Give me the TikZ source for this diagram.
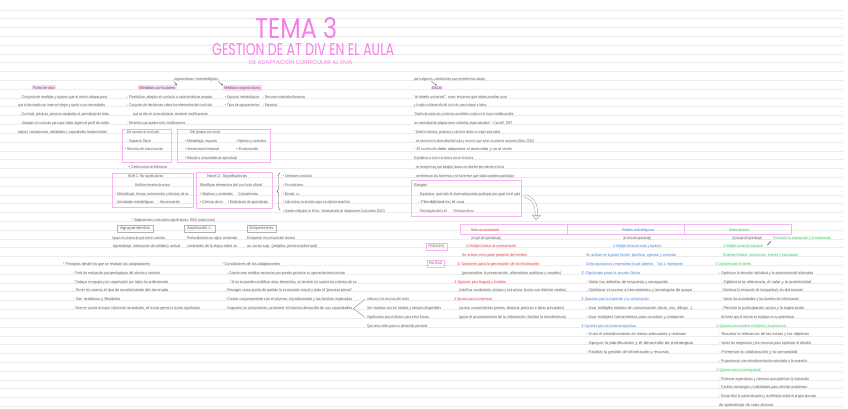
\documentclass[tikz,border=0pt]{standalone}
\usepackage{graphicx}
\usepackage{fontspec}
\setmainfont{Liberation Sans}
\newfontfamily\symfont{DejaVu Sans}
\newfontfamily\titlefont{Poppins}
\usetikzlibrary{arrows.meta,decorations.pathreplacing}

\newlength\hwlen
\newcommand\hw[2]{\settowidth\hwlen{#2}\pgfmathsetmacro\hwf{#1/\hwlen}\scalebox{\hwf}[1]{#2}}
\newcommand\cn[1]{{\symfont #1}}

\begin{document}
\begin{tikzpicture}[x=1pt, y=-1pt, line join=round, line cap=round,
    note/.style={anchor=base west, inner sep=0pt, font=\fontsize{4}{5}\selectfont, text=ink},
    hilite/.style={note, fill=hlPink, inner xsep=1.2pt, inner ysep=0.9pt},
    pinkframe/.style={draw=boxPink, line width=0.9pt},
    tagbox/.style={draw=boxPink, line width=0.8pt, inner sep=0pt, font=\fontsize{3.6}{4}\selectfont, text=ink},
    grbox/.style={draw=gray!60, line width=0.6pt, inner sep=0pt, font=\fontsize{4}{5}\selectfont, text=ink},
    ruleline/.style={draw=ruleGray, line width=0.9pt},
    smallarrow/.style={draw=ink, line width=0.35pt, -{Stealth[length=2pt, width=1.8pt]}},
    hollow/.style={draw=gray!75, line width=0.5pt, double=white, double distance=2pt, -{Triangle[open, length=5pt, width=9pt]}}]
  \definecolor{ink}{RGB}{92, 92, 92}
  \definecolor{tPink}{RGB}{244, 126, 234}
  \definecolor{boxPink}{RGB}{245, 182, 240}
  \definecolor{hlPink}{RGB}{252, 216, 248}
  \definecolor{ruleGray}{RGB}{236, 236, 236}
  \definecolor{cRed}{RGB}{232, 58, 58}
  \definecolor{cBlue}{RGB}{72, 126, 226}
  \definecolor{cGreen}{RGB}{48, 196, 96}

  \useasboundingbox (0,0) rectangle (848,409);

  \foreach \k in {0,...,45}
    \draw[ruleline] (0,{10+8.81*\k}) -- (843,{10+8.81*\k});

  % titulo
  \node[anchor=north west, inner sep=0pt, text=tPink] (tema) at (255,17) {\resizebox{82pt}{21pt}{\titlefont TEMA 3}};
  \node[anchor=north west, inner sep=0pt, text=tPink] (gest) at (212,43) {\resizebox{182pt}{12pt}{\titlefont GESTION DE AT DIV EN EL AULA}};
  \node[anchor=north west, inner sep=0pt, text=tPink] (subt) at (249,58.5) {\resizebox{103pt}{!}{\titlefont DE ADAPTACIÓN CURRICULAR AL DUA}};

  % cabeceras
  \node[note] (orgm) at (174,{10+8.81*8}) {\hw{44}{organizativas / metodológicas}};
  \node[hilite] (pvis) at (32,{10+8.81*9}) {\hw{21}{Punto de vista}};
  \node[hilite] (mcur) at (138,{10+8.81*9}) {\hw{36}{Medidas curriculares}};
  \node[hilite] (morg) at (223,{10+8.81*9}) {\hw{36}{Medidas organizativas}};
  \node[note] (algn) at (414,{10+8.81*8}) {\hw{72}{para algunos, condiciones que permiten las adapt.:}};
  \node[hilite] (dua) at (431,{10+8.81*9}) {\hw{9}{DUA}};
  \draw[smallarrow] (orgm.south west) -- (mcur.north east);
  \draw[smallarrow] (orgm.south east) -- (morg.north west);
  \draw[smallarrow] ([xshift=17pt]algn.south west) -- (dua.north);

  \foreach \k/\x/\w/\t [count=\i] in {
      10/20/87/{- Conjunto de medidas y ajustes que el centro adopta para},
      11/18/87/{que el alumnado con neae se integre y ajuste a sus necesidades},
      12/20/89/{- Currículo, prácticas, procesos adaptados al aprendizaje de todos},
      13/20/89/{- Adaptan el currículo para que todos logren el perfil de salida},
      14/18/89/{adquirir competencias, habilidades y capacidades fundamentales},
      10/127/85/{- Flexibilizar, adaptar el currículo a características propias},
      11/127/85/{- Conjunto de decisiones sobre los elementos del currículo},
      12/133/75/{que se dan en la escuela/aula, mediante modificaciones},
      13/127/58/{- Elementos que pueden sufrir modificaciones},
      10/225/80/{• Espacios metodológicos \quad - Recursos materiales/humanos},
      11/225/52/{• Tipos de agrupamientos \quad - Espacios},
      10/414/93/{“el diseño universal”: crear entornos que todos puedan usar},
      11/414/72/{y lo aplica al desarrollo del currículo, para integrar a todos},
      12/414/100/{“Diseño de productos y entornos accesibles a todos en la mayor medida posible,},
      13/414/98/{sin necesidad de adaptaciones o diseños especializados” – Connell, 1997},
      14/414/86/{* Diseñar entornos, productos y servicios desde su origen para todos},
      15/414/120/{- se centra en la diversidad del aula y no en lo que tiene un alumno concreto (Alba, 2012)},
      16/414/98/{- El currículo debe adaptarse al alumnado y no al revés},
      17/414/59/{El problema no está en el alumno sino en el entorno},
      18/414/90/{- no siempre hay que adaptar, basta con diseñar bien desde el inicio},
      19/414/100/{- se eliminan las barreras y se favorece que todos puedan participar},
      20/414/14/{Rasgos:},
      21/418/102/{- Equitativo, que todo el alumnado pueda participar por igual en el aula},
      22/418/46/{- Flexibilidad en el uso},
      23/418/56/{- Tecnologías de la inf. \quad - Técnicas de ev.}}
    \node[note] (a\i) at (\x,{10+8.81*\k}) {\hw{\w}{\t}};

  % cajas de adaptaciones
  \draw[pinkframe] (122,129) rectangle (171,162);
  \draw[pinkframe] (177,129) rectangle (270,162);
  \draw[pinkframe] (112,173) rectangle (193,207);
  \draw[pinkframe] (196,172) rectangle (272,208);
  \draw[pinkframe] (411,180) rectangle (521,216);

  \foreach \k/\x/\w/\t [count=\i] in {
      14/127/32/{De acceso al currículo},
      15/127/24/{- Espacio físico},
      16/125/38/{• Recursos de comunicación},
      14/190/30/{Del propio currículo},
      15/185/32/{• Metodología, espacios},
      15/236/30/{• Objetivos y contenidos},
      16/185/34/{• Secuenciación temporal},
      16/236/22/{• Evaluación},
      17/185/52/{• Relación a comunidades de aprendizaje},
      18/128/39/{\cn{→} Clasificaciones de diferencias},
      19/128/35/{Nivel 1: No significativas},
      20/135/35/{Modifican elementos de acceso},
      21/115/74/{- Metodología, tiempo, instrumentos y técnicas de ev.},
      22/115/65/{- Actividades metodológicas \quad - Secuenciación},
      19/207/40/{Nivel 2: Significativas},
      20/200/62/{Modifican elementos del currículo oficial},
      21/200/58/{• Objetivos y contenidos \quad - Competencias},
      22/200/68/{• Criterios de ev. \quad • Estándares de aprendizaje},
      19/283/29/{• Desfase curricular},
      20/283/20/{• Sin condiciones},
      21/283/17/{• Ejemplo: c.c.},
      22/283/67/{• Cada materia, los docentes según sus objetivos específicos},
      23/283/102/{• Quedan reflejadas en el Doc. Individualizado de Adaptaciones Curriculares (DIAC)},
      24/132/83/{* Adaptaciones curriculares significativas: DIAC (cada curso)},
      26/112/53/{Agrupa a los alumnos de igual nivel en contenidos},
      26/187/50/{Profundización en algún contenido},
      26/247/48/{Enriquecer el currículo del alumno},
      27/113/67/{Aprendizaje: interacción de calidad y actitud},
      27/187/50/{contenidos de la etapa sobre un},
      27/247/70/{un curso sup. (ampliar, presencial/virtual)}}
    \node[note] (b\i) at (\x,{10+8.81*\k}) {\hw{\w}{\t}};

  \draw[decorate, decoration={brace, amplitude=3pt}, draw=ink, line width=0.4pt] (280,210) -- (280,173);

  \node[grbox, minimum width=36pt, minimum height=7pt] (agru) at (135,228.5) {\hw{30}{Agrupamientos}};
  \node[grbox, minimum width=31pt, minimum height=7pt] (ampl) at (199.5,228.5) {\hw{25}{Ampliación c.}};
  \node[grbox, minimum width=29pt, minimum height=7pt] (enri) at (261.5,228.5) {\hw{24}{Enriquecimiento}};

  % principios y condiciones
  \foreach \k/\x/\w/\t [count=\i] in {
      29/63/87/{* Principios desde los que se realizan las adaptaciones},
      30/73/87/{- Partir de evaluación psicopedagógica del alumno y contexto},
      31/73/95/{- Trabajar en equipo y en cooperación con todos los profesionales},
      32/73/95/{- Tener en cuenta el tipo de escolarización del alumnado},
      33/73/47/{- Ser realistas y flexibles},
      34/73/127/{- Tener en cuenta el mayor número de necesidades, de lo más general a lo más significativo},
      29/222/58/{* Condiciones de las adaptaciones},
      30/227/118/{- Cuando sean medidas necesarias que puedan garantizar su aprovechamiento escolar},
      31/229/128/{- Si no se pueden modificar otros elementos, se tendrán en cuenta los criterios de ev.},
      32/225/127/{- Recoger como punto de partida la evaluación inicial y todo el “proceso previo”},
      33/225/127/{- Contar conjuntamente con el alumno, el profesorado y las familias implicadas},
      34/225/127/{- Suponen un compromiso, promover el máximo desarrollo de sus capacidades},
      33/367/42/{Adecuar a los recursos del centro},
      34/367/74/{Ser realistas con los medios y tiempos disponibles},
      35/367/62/{Significativas para el alumno, para evitar fracaso},
      36/367/60/{Que sean útiles para su desarrollo personal}}
    \node[note] (c\i) at (\x,{10+8.81*\k}) {\hw{\w}{\t}};

  \draw[ink!80, line width=0.35pt] ([xshift=-2pt]c13.west) -- ([xshift=1pt]c12.east) -- ([xshift=-2pt]c15.west);

  % DUA
  \coordinate (arrS) at (525,196);
  \coordinate (arrE) at (536,220);
  \draw[hollow] (arrS) .. controls (533,198) and (537,205) .. (arrE);

  \draw[pinkframe] (460,224) rectangle (791,234.5);
  \draw[pinkframe] (567,224) -- (567,234.5);
  \draw[pinkframe] (684,224) -- (684,234.5);
  \node[note, text=cRed] (hRed) at (471,231.5) {\hw{28}{Redes de reconocimiento}};
  \node[note, text=cBlue] (hBlue) at (622,231.5) {\hw{32}{Redes estratégicas}};
  \node[note, text=cGreen] (hGreen) at (729,231.5) {\hw{20}{Redes afectivas}};

  \node[tagbox, minimum width=21pt, minimum height=7pt] (princ) at (436.5,246.5) {\hw{16}{PRINCIPIO}};
  \node[tagbox, minimum width=17pt, minimum height=7pt] (paut) at (435.5,263.5) {\hw{13}{PAUTAS}};
  \draw[ink, line width=0.7pt] (767.5,245) -- (770.5,241.5);

  \foreach \k/\x/\w/\c/\t [count=\i] in {
      26/471/30/ink/{(el qué del aprendizaje)},
      26/623/28/ink/{(el cómo del aprendizaje)},
      26/732/30/ink/{(el porqué del aprendizaje)},
      26/773/58/cGreen/{Promover la implicación y la motivación},
      27/466/50/cRed/{\cn{①} Múltiples formas de representación},
      27/613/48/cBlue/{\cn{①} Múltiples formas de acción y expresión},
      27/723/40/cGreen/{\cn{①} Múltiples formas de implicación},
      28/462/65/cRed/{Se activan en la parte posterior del cerebro},
      28/586/90/cBlue/{Se activan en la parte frontal: planificar, ejecutar y controlar},
      28/723/75/cGreen/{Sistema límbico: emociones, interés y motivación},
      29/457/82/cRed/{\cn{①} Opciones para la percepción de la información},
      29/586/97/cBlue/{Cómo organizamos y expresamos lo que sabemos \quad Tipo 1: expresiones},
      29/715/36/cGreen/{\cn{①} Opciones para el interés},
      30/462/99/ink/{(personalizar la presentación, alternativas auditivas y visuales)},
      30/581/59/cBlue/{\cn{①} Opciones para la acción física},
      30/719/94/ink/{- Optimizar la elección individual y la autonomía del alumnado},
      31/454/52/cRed/{\cn{②} Opciones para lenguaje y símbolos},
      31/586/82/ink/{- Variar los métodos de respuesta y navegación},
      31/721/90/ink/{- Optimizar la relevancia, el valor y la autenticidad},
      32/459/107/ink/{(clarificar vocabulario, sintaxis y estructura; ilustrar con distintos medios)},
      32/586/106/ink/{- Optimizar el acceso a herramientas y tecnologías de apoyo},
      32/721/82/ink/{- Minimizar la sensación de inseguridad y las distracciones},
      33/454/38/cRed/{\cn{③} Opciones para la comprensión},
      33/581/68/cBlue/{\cn{②} Opciones para la expresión y la comunicación},
      33/721/78/ink/{- Variar las actividades y las fuentes de información},
      34/459/105/ink/{(activar conocimientos previos, destacar patrones e ideas principales)},
      34/586/106/ink/{- Usar múltiples medios de comunicación (texto, voz, dibujo...)},
      34/721/83/ink/{- Permitir la participación activa y la exploración},
      35/459/107/ink/{(guiar el procesamiento de la información, facilitar la transferencia)},
      35/586/98/ink/{- Usar múltiples herramientas para construir y componer},
      35/721/73/ink/{de forma que el alumno se implique en su aprendizaje},
      36/581/55/cBlue/{\cn{③} Opciones para las funciones ejecutivas},
      36/716/70/cGreen/{\cn{②} Opciones para mantener el esfuerzo y la persistencia},
      37/586/100/ink/{- Guiar el establecimiento de metas adecuadas y realistas},
      37/719/90/ink/{- Resaltar la relevancia de las metas y los objetivos},
      38/586/107/ink/{- Apoyar la planificación y el desarrollo de estrategias},
      38/719/92/ink/{- Variar las exigencias y los recursos para optimizar el desafío},
      39/586/83/ink/{- Facilitar la gestión de información y recursos},
      39/719/78/ink/{- Fomentar la colaboración y la comunidad},
      40/719/88/ink/{- Proporcionar una retroalimentación orientada a la maestría},
      41/716/45/cGreen/{\cn{③} Opciones para la autorregulación},
      42/719/90/ink/{- Promover expectativas y creencias que optimicen la motivación},
      43/719/88/ink/{- Facilitar estrategias y habilidades para afrontar problemas},
      44/719/97/ink/{- Desarrollar la autoevaluación y la reflexión sobre el propio proceso},
      45/719/54/ink/{de aprendizaje de cada alumno}}
    \node[note, text=\c] (d\i) at (\x,{10+8.81*\k}) {\hw{\w}{\t}};
\end{tikzpicture}
\end{document}
